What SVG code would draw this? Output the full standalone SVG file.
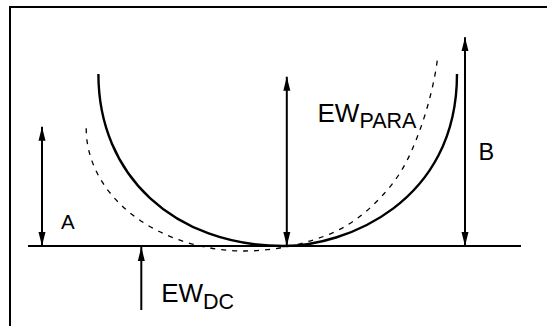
<svg xmlns="http://www.w3.org/2000/svg" width="547" height="326" viewBox="0 0 547 326">
<style>
.frame{fill:none;stroke:#000;stroke-width:2}
.base{fill:none;stroke:#000;stroke-width:2}
.solid{fill:none;stroke:#000;stroke-width:2.4}
.dash{fill:none;stroke:#000;stroke-width:1.3;stroke-dasharray:5 6}
.arr{fill:none;stroke:#000;stroke-width:2}
.lbl{font-family:"Liberation Sans",Arial,sans-serif;fill:#000}
</style>
<defs>
<marker id="ah" markerUnits="userSpaceOnUse" markerWidth="14" markerHeight="8" refX="14" refY="3.5" orient="auto-start-reverse" viewBox="0 0 14 7">
<path d="M0,0 L14,3.5 L0,7 z" fill="#000"/>
</marker>
</defs>
<path class="frame" d="M10,330 V7 H550"/>
<g id="curves">
<path id="solid-curve" class="solid" d="M98.4,74 C98.4,175.5 174.1,246 284,246 C345,246 457,203 457,74"/>
<path id="dashed-curve" class="dash" d="M86.2,128.3 A159,122.7 0 0 0 245,251 C274.3,251 307.8,243.5 331.5,233.3 C355.2,223.1 372.8,206.7 387.3,190 C401.8,173.3 410.3,155.8 418.7,133.3 C427.1,110.8 435.2,81 437.9,55"/>
</g>
<g id="baseline"><path class="base" d="M28,246 H521"/></g>
<g id="connectors">
<line class="arr" x1="42" y1="126.7" x2="42" y2="246" marker-start="url(#ah)" marker-end="url(#ah)"/>
<line class="arr" x1="286.8" y1="76.7" x2="286.8" y2="246" marker-start="url(#ah)" marker-end="url(#ah)"/>
<line class="arr" x1="465" y1="37.3" x2="465" y2="246" marker-start="url(#ah)" marker-end="url(#ah)"/>
<line class="arr" x1="141.3" y1="310" x2="141.3" y2="247" marker-end="url(#ah)"/>
</g>
<g id="label-A"><text class="lbl" x="61" y="229.3" font-size="20.5">A</text></g>
<g id="label-B"><text class="lbl" x="478.5" y="159.5" font-size="23.5">B</text></g>
<g id="label-EWPARA"><text class="lbl" x="317.5" y="121.5" font-size="26">EW<tspan font-size="21.5" dy="6.5">PARA</tspan></text></g>
<g id="label-EWDC"><text class="lbl" x="161.2" y="302" font-size="26">EW<tspan font-size="21.5" dy="6.5">DC</tspan></text></g>
</svg>
